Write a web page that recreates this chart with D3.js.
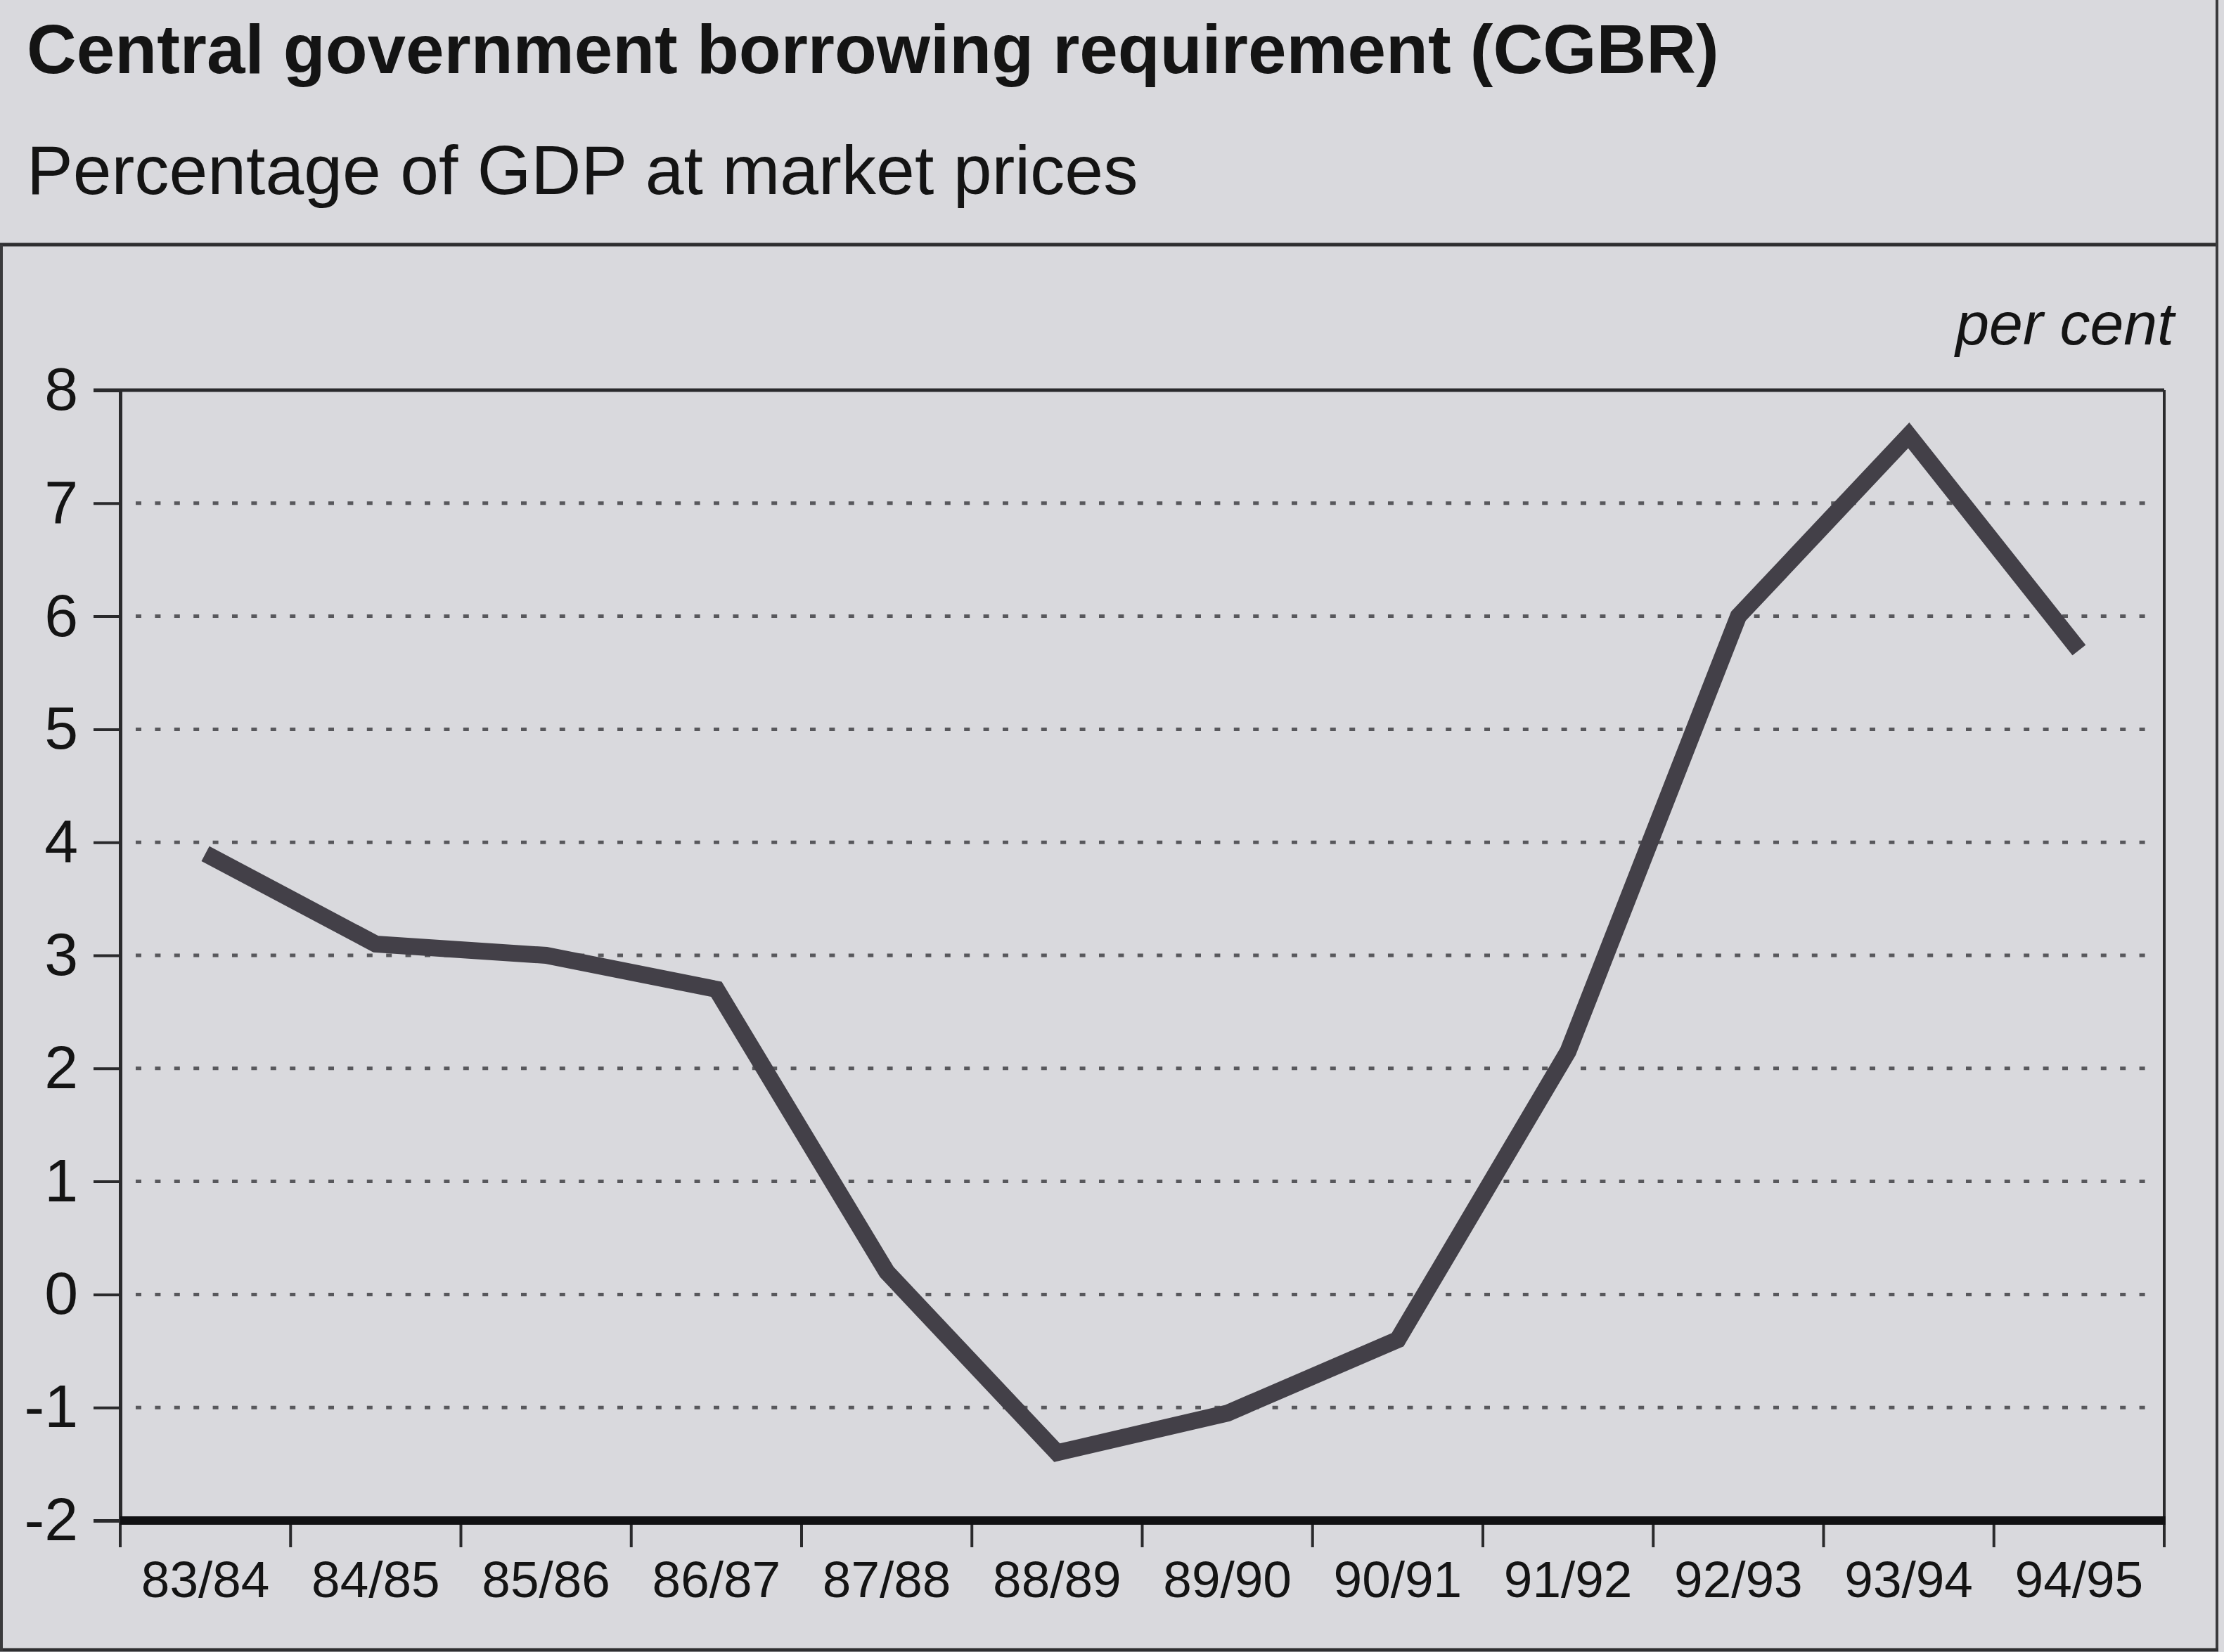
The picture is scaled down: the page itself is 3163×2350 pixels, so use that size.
<!DOCTYPE html>
<html>
<head>
<meta charset="utf-8">
<script src="https://cdn.jsdelivr.net/npm/d3@7"></script>
<style>
  html, body { margin: 0; padding: 0; background: #d9d9dd; }
  svg { display: block; }
  text { font-family: "Liberation Sans", Arial, Helvetica, sans-serif; fill: #141414; }
</style>
</head>
<body>
<svg id="chart" width="3163" height="2350"></svg>
<script>
// ---- data ----
const categories = ["83/84","84/85","85/86","86/87","87/88","88/89","89/90","90/91","91/92","92/93","93/94","94/95"];
const cgbrValues = [3.9, 3.1, 3.0, 2.7, 0.2, -1.4, -1.05, -0.4, 2.15, 6.0, 7.6, 5.7];
const yTickValues = [-2, -1, 0, 1, 2, 3, 4, 5, 6, 7, 8];
const gridValues = [-1, 0, 1, 2, 3, 4, 5, 6, 7];
const titleText = "Central government borrowing requirement (CGBR)";
const subtitleText = "Percentage of GDP at market prices";
const unitText = "per cent";

(function () {
// ---- layout ----
const W = 3163, H = 2350;
const pLeft = 171, pRight = 3078, pTop = 555, pBottom = 2163;

const svg = d3.select("#chart");
svg.append("rect").attr("x", 0).attr("y", 0).attr("width", W).attr("height", H).attr("fill", "#d9d9dd");

// frame
svg.append("line").attr("x1", 0).attr("x2", 3153).attr("y1", 348).attr("y2", 348)
  .attr("stroke", "#2e2e30").attr("stroke-width", 5);
svg.append("line").attr("x1", 3153).attr("x2", 3153).attr("y1", 0).attr("y2", 2348)
  .attr("stroke", "#3a3a3c").attr("stroke-width", 4);
svg.append("line").attr("x1", 0).attr("x2", 3155).attr("y1", 2347).attr("y2", 2347)
  .attr("stroke", "#2e2e30").attr("stroke-width", 5);
svg.append("line").attr("x1", 2).attr("x2", 2).attr("y1", 348).attr("y2", 2348)
  .attr("stroke", "#3a3a3c").attr("stroke-width", 4);

// titles
svg.append("text").attr("x", 38).attr("y", 104)
  .attr("font-size", 98).attr("font-weight", "bold").text(titleText);
svg.append("text").attr("x", 38).attr("y", 276)
  .attr("font-size", 98.5).text(subtitleText);
svg.append("text").attr("x", 3092).attr("y", 490).attr("text-anchor", "end")
  .attr("font-size", 86).attr("font-style", "italic").text(unitText);

// scales
const x = d3.scaleBand().domain(categories).range([pLeft, pRight]).paddingInner(0).paddingOuter(0);
const y = d3.scaleLinear().domain([-2, 8]).range([pBottom, pTop]);

// gridlines (dotted)
svg.append("g").selectAll("line").data(gridValues).join("line")
  .attr("x1", pLeft + 22).attr("x2", pRight - 22)
  .attr("y1", d => y(d)).attr("y2", d => y(d))
  .attr("stroke", "#58585c").attr("stroke-width", 5)
  .attr("stroke-dasharray", "8 19.4");

// plot top and right borders
svg.append("line").attr("x1", pLeft - 38).attr("x2", pRight).attr("y1", pTop).attr("y2", pTop)
  .attr("stroke", "#2a2a2c").attr("stroke-width", 5);
svg.append("line").attr("x1", pRight).attr("x2", pRight).attr("y1", pTop).attr("y2", pBottom)
  .attr("stroke", "#2a2a2c").attr("stroke-width", 4);

// y axis
const yAxis = svg.append("g").attr("transform", `translate(${pLeft},0)`)
  .call(d3.axisLeft(y).tickValues(yTickValues).tickSize(38).tickPadding(22)
    .tickFormat(d => String(d)));
yAxis.select(".domain").attr("stroke", "#2a2a2c").attr("stroke-width", 5);
yAxis.selectAll(".tick line").attr("stroke", "#2a2a2c").attr("stroke-width", 4);
yAxis.selectAll(".tick text").attr("font-size", 86).attr("fill", "#141414")
  .attr("font-family", "Liberation Sans, Arial, sans-serif");

// x axis labels
const xAxis = svg.append("g").attr("transform", `translate(0,${pBottom})`)
  .call(d3.axisBottom(x).tickSize(0).tickPadding(57));
xAxis.select(".domain").remove();
xAxis.selectAll(".tick text").attr("font-size", 73).attr("fill", "#141414")
  .attr("font-family", "Liberation Sans, Arial, sans-serif");

// x ticks at band boundaries
const boundaries = categories.map(c => x(c)).concat([x(categories[categories.length - 1]) + x.bandwidth()]);
svg.append("g").selectAll("line").data(boundaries).join("line")
  .attr("x1", d => d).attr("x2", d => d)
  .attr("y1", pBottom).attr("y2", pBottom + 38)
  .attr("stroke", "#2a2a2c").attr("stroke-width", 4);

// bold x axis line
svg.append("line").attr("x1", pLeft).attr("x2", pRight + 2).attr("y1", pBottom).attr("y2", pBottom)
  .attr("stroke", "#111113").attr("stroke-width", 12);

// data line
const series = categories.map((c, i) => ({ cat: c, v: cgbrValues[i] }));
const line = d3.line().x(d => x(d.cat) + x.bandwidth() / 2).y(d => y(d.v));
svg.append("path").datum(series)
  .attr("d", line)
  .attr("fill", "none")
  .attr("stroke", "#434048")
  .attr("stroke-width", 24)
  .attr("stroke-linejoin", "miter")
  .attr("stroke-linecap", "butt");
})();
</script>
</body>
</html>
